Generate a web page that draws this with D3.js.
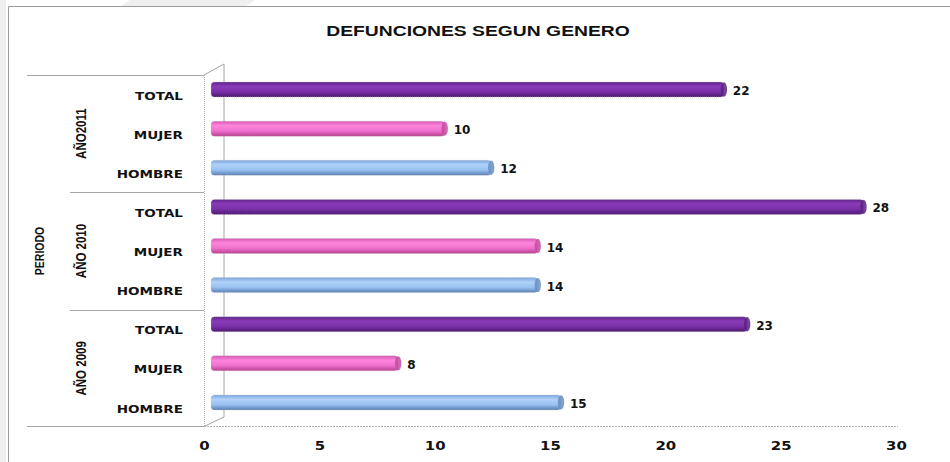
<!DOCTYPE html>
<html>
<head>
<meta charset="utf-8">
<script src="https://cdn.jsdelivr.net/npm/d3@7"></script>
<style>
  html, body { margin: 0; padding: 0; background: #fff; }
  svg { display: block; }
</style>
</head>
<body>
<svg id="chart" width="950" height="462"></svg>
<script>
// ---------- data ----------
const title = "DEFUNCIONES SEGUN GENERO";
const axisTitle = "PERIODO";
const years = ["AÑO2011", "AÑO 2010", "AÑO 2009"];           // top to bottom
const genders = ["TOTAL", "MUJER", "HOMBRE"];                 // top to bottom within a year
const totalValues  = [22, 28, 23];                            // per year (2011, 2010, 2009)
const mujerValues  = [10, 14, 8];
const hombreValues = [12, 14, 15];
const tickValues = [0, 5, 10, 15, 20, 25, 30];

// build rows (top to bottom)
const seriesByGender = { TOTAL: totalValues, MUJER: mujerValues, HOMBRE: hombreValues };
const rows = [];
years.forEach((yr, yi) => {
  genders.forEach(g => rows.push({ key: yr + "|" + g, year: yr, gender: g, value: seriesByGender[g][yi] }));
});

const svg = d3.select("#chart");
const W = 950, H = 462;

// ---------- background / frame ----------
svg.append("rect").attr("width", W).attr("height", H).attr("fill", "#fff");
svg.append("rect").attr("x", 0).attr("y", 0).attr("width", 6).attr("height", H).attr("fill", "#efefef");
svg.append("polygon").attr("points", "130,0 255,0 246,6 121,6").attr("fill", "#efefef");
svg.append("path").attr("d", `M8.5,${H} V6.5 H${W}`).attr("fill", "none").attr("stroke", "#9a9a9a").attr("stroke-width", 1);

// ---------- scales ----------
const xAxisScale = d3.scaleLinear().domain([0, 30]).range([204, 896]);
const xBar = d3.scaleLinear().domain([0, 30]).range([215, 913]);
const y = d3.scaleBand().domain(rows.map(d => d.key)).range([75, 427]).padding(0);
const barH = 15;
const barShift = -5;   // 3D depth offset of bars

// ---------- 3D wall ----------
const wall = svg.append("g");
const topY = y.range()[0], botY = y.range()[1];
const depthX = 20, depthY = -11;
wall.append("line").attr("x1", 204 + depthX).attr("x2", 204 + depthX).attr("y1", topY + depthY).attr("y2", botY + depthY + 1)
  .attr("stroke", "#a6a6a6").attr("stroke-width", 1);
wall.append("line").attr("x1", 204).attr("y1", topY).attr("x2", 204 + depthX).attr("y2", topY + depthY)
  .attr("stroke", "#a6a6a6").attr("stroke-width", 1);
wall.append("line").attr("x1", 205).attr("y1", botY - 1).attr("x2", 204 + depthX).attr("y2", botY + depthY + 1)
  .attr("stroke", "#a6a6a6").attr("stroke-width", 1);
wall.append("line").attr("x1", 204.5).attr("x2", 204.5).attr("y1", topY).attr("y2", botY)
  .attr("stroke", "#b0b0b0").attr("stroke-width", 1).attr("stroke-dasharray", "1,1");

// category axis lines
svg.append("line").attr("x1", 27).attr("x2", 204).attr("y1", topY + 0.5).attr("y2", topY + 0.5)
  .attr("stroke", "#a6a6a6");
[3, 6].forEach(i => {
  const yy = Math.round(y(rows[i].key)) + 0.5;
  svg.append("line").attr("x1", 70).attr("x2", 204).attr("y1", yy).attr("y2", yy).attr("stroke", "#a6a6a6");
});
svg.append("line").attr("x1", 27).attr("x2", 204).attr("y1", botY - 0.5).attr("y2", botY - 0.5).attr("stroke", "#a6a6a6");
svg.append("line").attr("x1", 204).attr("x2", 898).attr("y1", botY - 0.5).attr("y2", botY - 0.5)
  .attr("stroke", "#b4b4b4").attr("stroke-dasharray", "2,1");

// ---------- gradients ----------
const defs = svg.append("defs");
const palettes = {
  TOTAL:  ["#5e2488", "#8a3cb8", "#7a30a8", "#4e1a72"],
  MUJER:  ["#d458b2", "#ff86dc", "#ee70cc", "#b8408f"],
  HOMBRE: ["#7ea6dc", "#b0d2fa", "#98c0f0", "#5a7fb4"]
};
const capColors = { TOTAL: "#5a2384", MUJER: "#c24c9f", HOMBRE: "#6a8ec4" };
Object.entries(palettes).forEach(([k, c]) => {
  const g = defs.append("linearGradient").attr("id", "grad-" + k).attr("x1", 0).attr("y1", 0).attr("x2", 0).attr("y2", 1);
  g.append("stop").attr("offset", "0%").attr("stop-color", c[0]);
  g.append("stop").attr("offset", "30%").attr("stop-color", c[1]);
  g.append("stop").attr("offset", "65%").attr("stop-color", c[2]);
  g.append("stop").attr("offset", "100%").attr("stop-color", c[3]);
});

// ---------- bars ----------
const bars = svg.append("g").selectAll("g.bar").data(rows).join("g").attr("class", "bar");
bars.append("rect")
  .attr("x", xBar(0) - 4)
  .attr("y", d => y(d.key) + y.bandwidth() / 2 + barShift - barH / 2)
  .attr("width", d => xBar(d.value) - xBar(0) + 1)
  .attr("height", barH)
  .attr("rx", 3.5).attr("ry", 3.5)
  .attr("fill", d => `url(#grad-${d.gender})`)
  .attr("stroke", "#c8c8c8").attr("stroke-width", 0.6).attr("stroke-dasharray", "1,1");
bars.append("ellipse")
  .attr("cx", d => xBar(d.value) - 3)
  .attr("cy", d => y(d.key) + y.bandwidth() / 2 + barShift)
  .attr("rx", 3.2).attr("ry", barH / 2 - 0.3)
  .attr("fill", d => capColors[d.gender]).attr("opacity", 0.85);

// value labels
bars.append("text")
  .attr("x", d => xBar(d.value) + 6)
  .attr("y", d => y(d.key) + y.bandwidth() / 2 + barShift + 1.5)
  .attr("dominant-baseline", "central")
  .attr("font-family", "'DejaVu Sans', Verdana, sans-serif")
  .attr("font-weight", "bold").attr("font-size", 12).attr("fill", "#111")
  .text(d => d.value);

// ---------- category labels ----------
const catG = svg.append("g");
catG.selectAll("g.cat").data(rows).join("g").attr("class", "cat")
  .attr("transform", d => `translate(183,${y(d.key) + y.bandwidth() / 2 + 1.5}) scale(1.23,1)`)
  .append("text")
  .attr("text-anchor", "end").attr("dominant-baseline", "central")
  .attr("font-family", "'DejaVu Sans', Verdana, sans-serif")
  .attr("font-weight", "bold").attr("font-size", 11).attr("fill", "#111")
  .text(d => d.gender);

// year labels (rotated)
years.forEach((yr, i) => {
  const y0 = y(rows[i * 3].key), y1 = y(rows[i * 3 + 2].key) + y.bandwidth();
  svg.append("text")
    .attr("transform", `translate(81,${(y0 + y1) / 2}) scale(1.3,1) rotate(-90)`)
    .attr("text-anchor", "middle").attr("dominant-baseline", "central")
    .attr("font-family", "'Liberation Sans', Arial, sans-serif")
    .attr("font-weight", "bold").attr("font-size", 11.5).attr("fill", "#111")
    .text(yr);
});
svg.append("text")
  .attr("transform", `translate(40,${(topY + botY) / 2}) scale(1.3,1) rotate(-90)`)
  .attr("text-anchor", "middle").attr("dominant-baseline", "central")
  .attr("font-family", "'Liberation Sans', Arial, sans-serif")
  .attr("font-weight", "bold").attr("font-size", 10.5).attr("fill", "#111")
  .text(axisTitle);

// ---------- x axis ----------
const xAxis = d3.axisBottom(xAxisScale).tickValues(tickValues).tickSize(0).tickPadding(0);
const axG = svg.append("g").attr("transform", `translate(0,445)`).call(xAxis);
axG.select(".domain").remove();
axG.selectAll("text")
  .attr("y", 0).attr("dy", null)
  .attr("dominant-baseline", "central")
  .attr("transform", "scale(1.15,1)")
  .attr("font-family", "'DejaVu Sans', Verdana, sans-serif")
  .attr("font-weight", "bold").attr("font-size", 13).attr("fill", "#111");

// ---------- title ----------
svg.append("text")
  .attr("transform", "translate(478,31) scale(1.38,1)")
  .attr("text-anchor", "middle").attr("dominant-baseline", "central")
  .attr("font-family", "'Liberation Sans', Arial, sans-serif")
  .attr("font-weight", "bold").attr("font-size", 14).attr("fill", "#111")
  .text(title);
</script>
</body>
</html>
